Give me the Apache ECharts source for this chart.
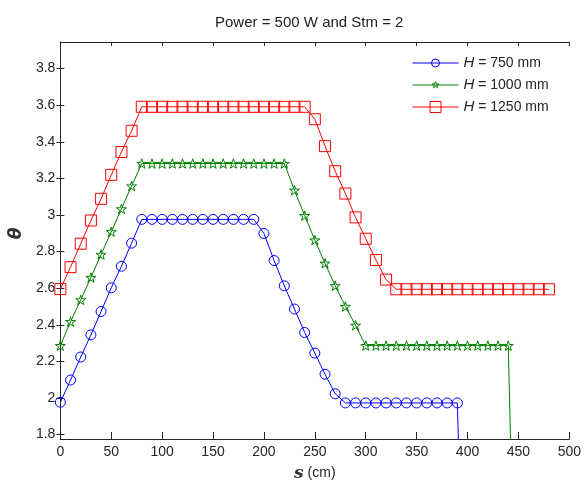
<!DOCTYPE html>
<html>
<head>
<meta charset="utf-8">
<script src="https://cdn.jsdelivr.net/npm/echarts@6/dist/echarts.min.js"></script>
<style>
html,body{margin:0;padding:0;background:#fff;}
#chart{width:584px;height:487px;}
</style>
</head>
<body>
<div id="chart"></div>
<script>
// s positions (cm)
const sBlue = [0,10,20,30,40,50,60,70,80,90,100,110,120,130,140,150,160,170,180,190,200,210,220,230,240,250,260,270,280,290,300,310,320,330,340,350,360,370,380,390,400];
const thetaBlue = [1.977,2.098,2.224,2.345,2.473,2.602,2.72,2.846,2.976,2.976,2.976,2.976,2.976,2.976,2.976,2.976,2.976,2.976,2.976,2.976,2.899,2.751,2.613,2.486,2.358,2.245,2.13,2.023,1.973,1.973,1.973,1.973,1.973,1.973,1.973,1.973,1.973,1.973,1.973,1.973,0];

const sGreen = [0,10,20,30,40,50,60,70,80,90,100,110,120,130,140,150,160,170,180,190,200,210,220,230,240,250,260,270,280,290,300,310,320,330,340,350,360,370,380,390,400,410,420,430,440,450];
const thetaGreen = [2.286,2.417,2.536,2.658,2.784,2.908,3.033,3.158,3.281,3.281,3.281,3.281,3.281,3.281,3.281,3.281,3.281,3.281,3.281,3.281,3.281,3.281,3.281,3.135,2.996,2.863,2.736,2.613,2.5,2.397,2.286,2.286,2.286,2.286,2.286,2.286,2.286,2.286,2.286,2.286,2.286,2.286,2.286,2.286,2.286,0];

const sRed = [0,10,20,30,40,50,60,70,80,90,100,110,120,130,140,150,160,170,180,190,200,210,220,230,240,250,260,270,280,290,300,310,320,330,340,350,360,370,380,390,400,410,420,430,440,450,460,470,480];
const thetaRed = [2.595,2.715,2.843,2.97,3.088,3.219,3.344,3.46,3.591,3.591,3.591,3.591,3.591,3.591,3.591,3.591,3.591,3.591,3.591,3.591,3.591,3.591,3.591,3.591,3.591,3.523,3.376,3.239,3.117,2.987,2.87,2.754,2.647,2.594,2.594,2.594,2.594,2.594,2.594,2.594,2.594,2.594,2.594,2.594,2.594,2.594,2.594,2.594,2.594];

const seriesNames = ['H = 750 mm','H = 1000 mm','H = 1250 mm'];
const seriesColors = ['#0000ff', '#008000', '#ff0000'];
const yTicks = [1.8,2,2.2,2.4,2.6,2.8,3,3.2,3.4,3.6,3.8];

function pairs(xs, ys) {
  return xs.map((x, i) => {
    const last = i === xs.length - 1 && ys[i] < 1.5;
    return last ? {value:[x, ys[i]], symbol:'none'} : [x, ys[i]];
  });
}

const starPath = 'path://M100,0 L122,69 L195,69 L136,112 L159,181 L100,138 L41,181 L64,112 L5,69 L78,69 Z';
// legend icons: line + marker, in a 460x140 box (= 46x14 px)
const boxAnchors = 'M0,0 M460,140 ';
const lineSeg = 'M0,70 L460,70 ';
const legendIcons = [
  'path://' + boxAnchors + lineSeg + 'M270,70 A40,40 0 1 1 190,70 A40,40 0 1 1 270,70 Z',
  'path://' + boxAnchors + lineSeg + 'M230,35 L237.9,59.2 L263.3,59.2 L242.7,74.1 L250.6,98.3 L230,83.4 L209.4,98.3 L217.3,74.1 L196.7,59.2 L222.1,59.2 Z',
  'path://' + boxAnchors + lineSeg + 'M175,15 L285,15 L285,125 L175,125 Z'
];
const axisColor = '#262626';
const txt = '#262626';
const clear = 'rgba(255,255,255,0)';

function mkSeries(name, xs, ys, color, symbol, size) {
  return {
    name: name,
    type: 'line',
    data: pairs(xs, ys),
    color: color,
    symbol: symbol,
    symbolSize: size,
    symbolKeepAspect: true,
    showAllSymbol: true,
    lineStyle: {color: color, width: 1},
    itemStyle: {color: clear, borderColor: color, borderWidth: 1},
    emphasis: {disabled: true},
    clip: true
  };
}

const chart = echarts.init(document.getElementById('chart'), null, {renderer: 'canvas'});
chart.setOption({
  animation: false,
  backgroundColor: '#fff',
  title: {
    text: 'Power = 500 W and Stm = 2',
    left: 215, top: 15, padding: 0,
    textStyle: {fontFamily: 'Liberation Sans, Arial, sans-serif', fontSize: 15, fontWeight: 'normal', color: '#222'}
  },
  grid: {left: 59, right: 13, top: 42, bottom: 40, containLabel: false},
  legend: {
    orient: 'vertical',
    left: 412, top: 55.5, padding: 0,
    itemWidth: 46, itemHeight: 14, itemGap: 7,
    symbolKeepAspect: true,
    data: seriesNames.map((n, i) => ({
      name: n,
      icon: legendIcons[i],
      itemStyle: {color: clear, borderColor: seriesColors[i], borderWidth: 1}
    })),
    formatter: n => n.replace('H', '{i|H}'),
    textStyle: {
      fontFamily: 'Liberation Sans, Arial, sans-serif', fontSize: 14, color: txt, lineHeight: 14,
      rich: {i: {fontStyle: 'italic', fontSize: 15, fontFamily: 'Liberation Sans, Arial, sans-serif', color: txt}}
    }
  },
  xAxis: [{
    type: 'value', min: 0, max: 500, interval: 50, position: 'bottom',
    name: '{i|s} (cm)', nameLocation: 'middle', nameGap: 26,
    nameTextStyle: {fontFamily: 'Liberation Sans, Arial, sans-serif', fontSize: 14, color: txt,
      rich: {i: {fontStyle: 'italic', fontWeight: 'bold', fontSize: 17, fontFamily: 'DejaVu Serif, serif', color: '#333'}}},
    axisLine: {show: true, lineStyle: {color: axisColor, width: 1}},
    axisTick: {show: true, inside: true, length: 7, lineStyle: {color: axisColor}},
    axisLabel: {fontFamily: 'Liberation Sans, Arial, sans-serif', fontSize: 14, color: txt, margin: 6},
    splitLine: {show: false}
  }, {
    type: 'value', min: 0, max: 500, interval: 50, position: 'top',
    axisLine: {show: true, lineStyle: {color: axisColor, width: 1}},
    axisTick: {show: true, inside: true, length: 4, lineStyle: {color: axisColor}},
    axisLabel: {show: false},
    splitLine: {show: false}
  }],
  yAxis: [{
    type: 'value', min: 1.776, max: 3.945, position: 'left',
    name: 'θ', nameLocation: 'middle', nameGap: 33, nameRotate: 90,
    nameTextStyle: {fontFamily: 'DejaVu Sans, sans-serif', fontStyle: 'italic', fontWeight: 'bold', fontSize: 17, color: '#333', padding: [0, 0, 0, 14]},
    axisLine: {show: true, lineStyle: {color: axisColor, width: 1}},
    axisTick: {show: true, inside: true, length: 4, customValues: yTicks, lineStyle: {color: axisColor}},
    axisLabel: {fontFamily: 'Liberation Sans, Arial, sans-serif', fontSize: 14, color: txt, margin: 5, customValues: yTicks},
    splitLine: {show: false}
  }, {
    type: 'value', min: 1.776, max: 3.945, position: 'right',
    axisLine: {show: true, lineStyle: {color: axisColor, width: 1}},
    axisTick: {show: true, inside: true, length: 4, customValues: yTicks, lineStyle: {color: axisColor}},
    axisLabel: {show: false, customValues: yTicks},
    splitLine: {show: false}
  }],
  series: [
    mkSeries(seriesNames[0], sBlue, thetaBlue, seriesColors[0], 'circle', 10),
    mkSeries(seriesNames[1], sGreen, thetaGreen, seriesColors[1], starPath, 10),
    mkSeries(seriesNames[2], sRed, thetaRed, seriesColors[2], 'rect', 11)
  ]
});
</script>
</body>
</html>
